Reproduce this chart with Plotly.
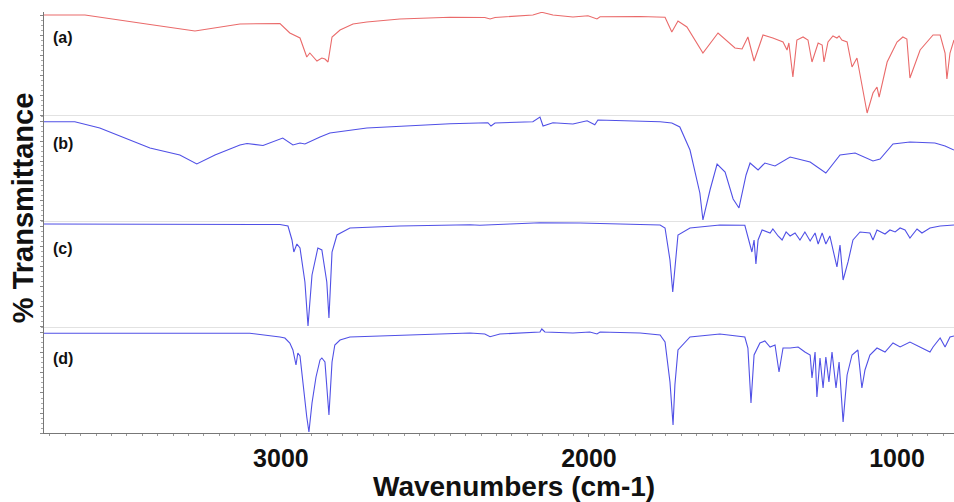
import plotly.graph_objects as go
from plotly.subplots import make_subplots

# ---- data (wavenumber cm-1, relative %T within each panel) ----
wn_a = [3769, 3636, 3425, 3279, 3133, 3003, 2971, 2938, 2916, 2906, 2883, 2867, 2857, 2847, 2834, 2808,
        2766, 2721, 2614, 2451, 2338, 2321, 2305, 2182, 2153, 2117, 2052, 2003, 1974, 1964, 1834, 1753,
        1731, 1711, 1682, 1630, 1581, 1526, 1503, 1484, 1464, 1435, 1403, 1370, 1357, 1351, 1338, 1325,
        1305, 1289, 1276, 1256, 1243, 1237, 1224, 1208, 1195, 1188, 1179, 1162, 1146, 1130, 1097, 1078,
        1065, 1058, 1032, 1000, 981, 968, 958, 948, 925, 883, 860, 844, 838, 828, 815]
t_a = [100, 100, 90.5, 84, 91, 91.5, 82, 77, 58, 62, 54, 57, 56, 53, 78, 85,
       91, 93, 96, 97.7, 97.5, 96, 97.5, 100, 102.7, 100, 98, 99.3, 96, 98.3, 98.5, 97.7,
       83, 94, 88, 62, 82, 67, 66, 78, 54, 80, 77, 73, 65, 72, 38, 75,
       78, 75, 53, 72, 70, 53, 73, 79, 77, 79, 75, 73, 48, 57, 2, 22,
       28, 18, 53, 73, 78, 76, 37, 45, 65, 80, 80, 62, 36, 62, 75]

wn_b = [3769, 3669, 3588, 3425, 3328, 3273, 3214, 3133, 3110, 3058, 2994, 2961, 2938, 2922, 2873, 2841,
        2721, 2614, 2451, 2328, 2318, 2305, 2182, 2159, 2149, 2117, 2052, 2006, 1981, 1971, 1834, 1769,
        1731, 1705, 1672, 1640, 1630, 1607, 1584, 1558, 1532, 1513, 1490, 1477, 1451, 1429, 1396, 1347,
        1282, 1231, 1185, 1136, 1078, 1055, 1013, 958, 877, 844, 815]
t_b = [99.3, 99.3, 93, 73, 66, 57, 66, 76, 77.5, 75.5, 83, 76, 78, 77, 84, 88,
       93, 95, 97.3, 98.3, 95, 98, 99.3, 104, 95, 98.3, 97, 100.3, 96.3, 101, 100, 99.3,
       98, 94, 71, 28, 1, 31, 57, 49, 22, 13, 46, 58, 51, 58, 55, 64,
       59, 48, 66, 68, 60, 62, 77, 79, 78, 75, 71]

wn_c = [3769, 3052, 3003, 2977, 2964, 2958, 2948, 2938, 2929, 2922, 2912, 2899, 2880, 2867, 2851, 2844,
        2834, 2818, 2776, 2614, 2386, 2354, 2256, 2159, 2029, 1834, 1769, 1753, 1737, 1728, 1721, 1711,
        1672, 1575, 1494, 1481, 1471, 1464, 1458, 1451, 1438, 1412, 1403, 1386, 1373, 1360, 1347, 1331,
        1315, 1299, 1282, 1266, 1256, 1243, 1231, 1218, 1208, 1195, 1185, 1175, 1159, 1143, 1120, 1088,
        1078, 1065, 1039, 1023, 1006, 990, 974, 958, 935, 919, 893, 860, 815]
t_c = [103, 103, 102.5, 101, 87, 75, 83, 79, 59, 45, 1, 52, 79, 77, 45, 9,
       75, 92, 99, 101, 102.3, 101.7, 103, 104.3, 104, 103, 102, 99, 67, 35, 62, 92,
       99, 102, 101.7, 87, 75, 87, 63, 87, 97, 94, 98, 91, 87, 95, 91, 94,
       87, 95, 86, 94, 83, 94, 83, 91, 77, 60, 82, 47, 65, 87, 95, 94,
       87, 97, 93, 97, 95, 99, 97, 89, 98, 94, 99, 101, 102]

wn_d = [3769, 3101, 3003, 2987, 2971, 2961, 2951, 2945, 2938, 2929, 2916, 2909, 2899, 2886, 2873, 2867,
        2857, 2844, 2834, 2825, 2808, 2776, 2614, 2484, 2386, 2338, 2321, 2289, 2159, 2153, 2143, 2052,
        1997, 1974, 1964, 1834, 1769, 1753, 1737, 1727, 1721, 1711, 1672, 1575, 1494, 1484, 1474, 1464,
        1445, 1429, 1412, 1396, 1383, 1370, 1347, 1321, 1299, 1282, 1276, 1266, 1260, 1250, 1240, 1231,
        1221, 1211, 1198, 1188, 1175, 1162, 1146, 1127, 1114, 1104, 1088, 1065, 1039, 1013, 990, 958,
        893, 883, 860, 844, 828, 815]
t_d = [99.7, 99.7, 96, 95, 90, 83, 68, 80, 77, 50, 16, 1, 30, 56, 73, 75,
       71, 18, 71, 88, 93, 96, 98, 99, 100, 99, 96.3, 99, 101, 104, 101, 100,
       101, 99, 101, 100, 98, 91, 51, 8, 48, 83, 96, 99, 96, 85, 30, 78,
       90, 92, 86, 88, 61, 85, 85, 86, 81, 78, 55, 81, 36, 75, 45, 76,
       51, 81, 45, 71, 11, 58, 78, 83, 45, 63, 78, 85, 81, 90, 86, 91,
       81, 86, 95, 86, 96, 97]

labels = ["(a)", "(b)", "(c)", "(d)"]
series = [(wn_a, t_a), (wn_b, t_b), (wn_c, t_c), (wn_d, t_d)]
colors = ["#ea6a6a", "#5050e6", "#5050e6", "#5050e6"]
x_ticks = [3000, 2000, 1000]

# ---- figure ----
fig = make_subplots(rows=4, cols=1, shared_xaxes=True, vertical_spacing=0)
for i, (wn, t) in enumerate(series):
    fig.add_trace(go.Scatter(x=wn, y=t, mode="lines", line=dict(color=colors[i], width=1.1),
                             showlegend=False, hoverinfo="skip"), row=i + 1, col=1)

domains = [[0.7553, 1.0], [0.5036, 0.7553], [0.2518, 0.5036], [0.0, 0.2518]]
yranges = [[0, 103], [0, 106], [0, 106], [0, 106]]
label_y = [0.9406, 0.6888, 0.4394, 0.1781]
FONT = "Liberation Sans, Arial, sans-serif"

for i in range(4):
    ya = "yaxis" if i == 0 else f"yaxis{i+1}"
    xa = "xaxis" if i == 0 else f"xaxis{i+1}"
    fig.layout[ya].update(domain=domains[i], range=yranges[i], showgrid=False, zeroline=False,
                          showticklabels=False, showline=True, linecolor="#777", linewidth=1,
                          ticks="outside", ticklen=3, tickcolor="#888", dtick=20,
                          minor=dict(ticks="outside", ticklen=2, dtick=5, tickcolor="#aaa"))
    last = i == 3
    fig.layout[xa].update(range=[3769, 815], showgrid=False, zeroline=False,
                          showline=True, linecolor="#777" if last else "#e2e2e2",
                          linewidth=1, mirror=False,
                          showticklabels=last, tickvals=x_ticks if last else None,
                          ticks="outside" if last else "", ticklen=3, tickcolor="#888",
                          minor=dict(ticks="outside", ticklen=2, dtick=50, tickcolor="#999") if last else None,
                          tickfont=dict(family=FONT, size=25, color="#111", weight="bold"))
    fig.add_annotation(text=labels[i], xref="paper", yref="paper",
                       x=0.021, y=label_y[i], showarrow=False, xanchor="center", yanchor="middle",
                       font=dict(family=FONT, size=16, color="#111", weight="bold"))

fig.add_annotation(text="% Transmittance", xref="paper", yref="paper", x=0, y=0.534,
                   xshift=-21, textangle=-90, showarrow=False, xanchor="center", yanchor="middle",
                   font=dict(family=FONT, size=29, color="#111", weight="bold"))
fig.add_annotation(text="Wavenumbers (cm-1)", xref="paper", yref="paper", x=0.516, y=0,
                   yshift=-53, showarrow=False, xanchor="center", yanchor="middle",
                   font=dict(family=FONT, size=28, color="#111", weight="bold"))

fig.update_layout(width=954, height=502, margin=dict(l=44, r=0, t=12, b=69),
                  paper_bgcolor="white", plot_bgcolor="white")
fig.write_html("out.html", config={"displayModeBar": False},
               post_script="document.body.style.margin='0';document.body.style.overflow='hidden';")
